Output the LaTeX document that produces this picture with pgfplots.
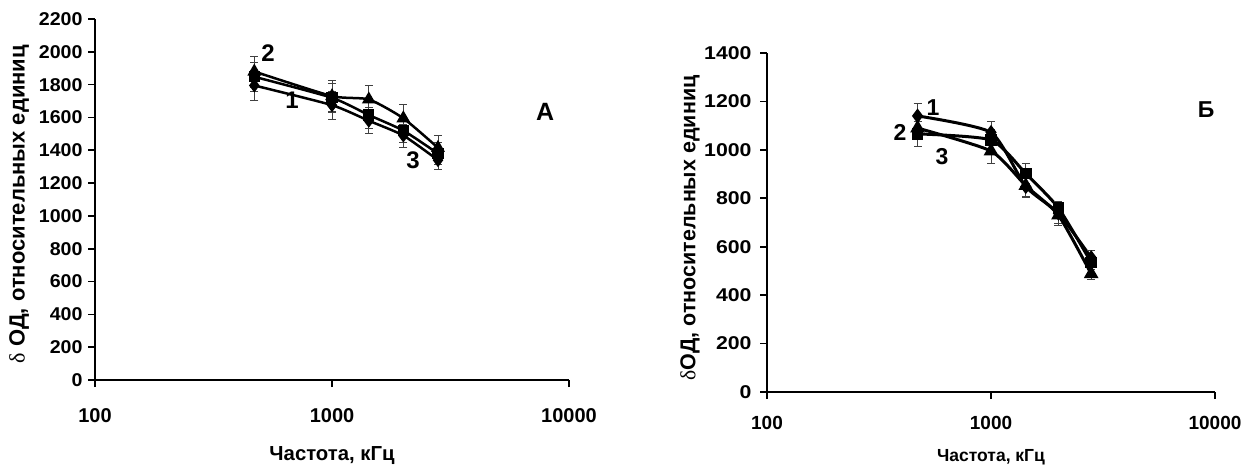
\documentclass[border=0pt]{standalone}
\usepackage{fontspec}
\setmainfont{Liberation Sans}
\newfontfamily\serifd{Liberation Serif}
\usepackage{graphicx}
\usepackage{pgfplots}
\pgfplotsset{compat=1.18}
\usepackage{pgfplotstable}

\pgfplotstableread{
x y e
470 1795 90
1000 1675 85
1430 1580 80
2000 1490 70
2800 1340 55
}\LA
\pgfplotstableread{
x y e
470 1880 95
1000 1730 95
1430 1710 85
2000 1595 87
2800 1415 75
}\LB
\pgfplotstableread{
x y e
470 1848 90
1000 1720 90
1430 1615 80
2000 1520 75
2800 1380 65
}\LC
\pgfplotstableread{
x y e
470 1140 50
1000 1072 45
1430 848 45
2000 738 40
2800 555 30
}\RA
\pgfplotstableread{
x y e
470 1066 50
1000 1041 45
1430 902 42
2000 760 27
2800 535 30
}\RB
\pgfplotstableread{
x y e
470 1090 45
1000 995 50
1430 852 45
2000 730 40
2800 488 25
}\RC

\newcommand{\fs}[1]{\fontsize{#1bp}{#1bp}\selectfont\bfseries}

\begin{document}
\begin{tikzpicture}
\path[use as bounding box] (0bp,0bp) rectangle (1254bp,467bp);

% ---------- Left panel (A) ----------
\begin{axis}[
  scale only axis,
  xmode=log,
  xmin=100, xmax=10000,
  ymin=0, ymax=2200,
  at={(95bp,87bp)}, anchor=south west,
  width=474bp, height=361bp,
  axis x line*=bottom,
  axis y line*=left,
  axis line style={line width=1.6bp},
  tick align=outside,
  major tick length=7bp,
  tick style={line width=1.6bp, black},
  xtick={100,1000,10000},
  xticklabels={100,1000,10000},
  xminorticks=false,
  ytick={0,200,...,2200},
  yticklabel={\scalebox{1.06}[1]{\pgfmathprintnumber[1000 sep={},assume math mode=true]{\tick}}},
  yticklabel style={font=\fs{18.5}, xshift=-2bp},
  xticklabel style={font=\fs{20}, yshift=-18bp},
  clip=false,
  xlabel={Частота, кГц},
  xlabel style={font=\fs{20.3}, at={(axis description cs:0.5,-0.208)}, anchor=center},
  ylabel={{\serifd\mdseries δ} ОД, относительных единиц},
  ylabel style={font=\fs{22}, at={(axis description cs:-0.160,0.4875)}, anchor=center},
]
\addplot[line width=2.5bp, black, smooth, tension=0.35, mark=diamond*, mark size=5bp, mark options={solid, fill=black},
  error bars/y dir=both, error bars/y explicit,
  error bars/error bar style={line width=0.8bp, black!75, solid},
  error bars/error mark options={rotate=90, mark size=4bp, line width=0.8bp, black!75}]
  table[x=x, y=y, y error=e] {\LA};
\addplot[line width=2.5bp, black, smooth, tension=0.35, mark=triangle*, mark size=5.5bp, mark options={solid, fill=black},
  error bars/y dir=both, error bars/y explicit,
  error bars/error bar style={line width=0.8bp, black!75, solid},
  error bars/error mark options={rotate=90, mark size=4bp, line width=0.8bp, black!75}]
  table[x=x, y=y, y error=e] {\LB};
\addplot[line width=2.5bp, black, smooth, tension=0.35, mark=square*, mark size=4.3bp, mark options={solid, fill=black},
  error bars/y dir=both, error bars/y explicit,
  error bars/error bar style={line width=0.8bp, black!75, solid},
  error bars/error mark options={rotate=90, mark size=4bp, line width=0.8bp, black!75}]
  table[x=x, y=y, y error=e] {\LC};
\node[font=\fs{24}] at (axis cs:537,1993) {2};
\node[font=\fs{24}] at (axis cs:678,1706) {1};
\node[font=\fs{24}] at (axis cs:2198,1341) {3};
\node[font=\fs{25}] at (axis cs:7925,1633) {А};
\end{axis}

% ---------- Right panel (B) ----------
\begin{axis}[
  scale only axis,
  xmode=log,
  xmin=100, xmax=10000,
  ymin=0, ymax=1400,
  at={(767bp,75bp)}, anchor=south west,
  width=448bp, height=339bp,
  axis x line*=bottom,
  axis y line*=left,
  axis line style={line width=1.6bp},
  tick align=outside,
  major tick length=7bp,
  tick style={line width=1.6bp, black},
  xtick={100,1000,10000},
  xticklabels={100,1000,10000},
  xminorticks=false,
  ytick={0,200,...,1400},
  yticklabel={\scalebox{1.15}[1]{\pgfmathprintnumber[1000 sep={},assume math mode=true]{\tick}}},
  yticklabel style={font=\fs{18.5}, xshift=-5bp},
  xticklabel style={font=\fs{19}, yshift=-14bp},
  clip=false,
  xlabel={Частота, кГц},
  xlabel style={font=\fs{17.5}, at={(axis description cs:0.5,-0.192)}, anchor=center},
  ylabel={{\serifd\mdseries δ}ОД, относительных единиц},
  ylabel style={font=\fs{21.5}, at={(axis description cs:-0.172,0.484)}, anchor=center},
]
\addplot[line width=3bp, black, smooth, tension=0.35, mark=diamond*, mark size=5bp, mark options={solid, fill=black},
  error bars/y dir=both, error bars/y explicit,
  error bars/error bar style={line width=0.8bp, black!75, solid},
  error bars/error mark options={rotate=90, mark size=4bp, line width=0.8bp, black!75}]
  table[x=x, y=y, y error=e] {\RA};
\addplot[line width=3bp, black, smooth, tension=0.35, mark=square*, mark size=4.3bp, mark options={solid, fill=black},
  error bars/y dir=both, error bars/y explicit,
  error bars/error bar style={line width=0.8bp, black!75, solid},
  error bars/error mark options={rotate=90, mark size=4bp, line width=0.8bp, black!75}]
  table[x=x, y=y, y error=e] {\RB};
\addplot[line width=3bp, black, smooth, tension=0.35, mark=triangle*, mark size=5.5bp, mark options={solid, fill=black},
  error bars/y dir=both, error bars/y explicit,
  error bars/error bar style={line width=0.8bp, black!75, solid},
  error bars/error mark options={rotate=90, mark size=4bp, line width=0.8bp, black!75}]
  table[x=x, y=y, y error=e] {\RC};
\node[font=\fs{23}] at (axis cs:551,1173) {1};
\node[font=\fs{23}] at (axis cs:392,1070) {2};
\node[font=\fs{23}] at (axis cs:604,971) {3};
\node[font=\fs{23}] at (axis cs:9120,1165) {Б};
\end{axis}
\end{tikzpicture}
\end{document}
